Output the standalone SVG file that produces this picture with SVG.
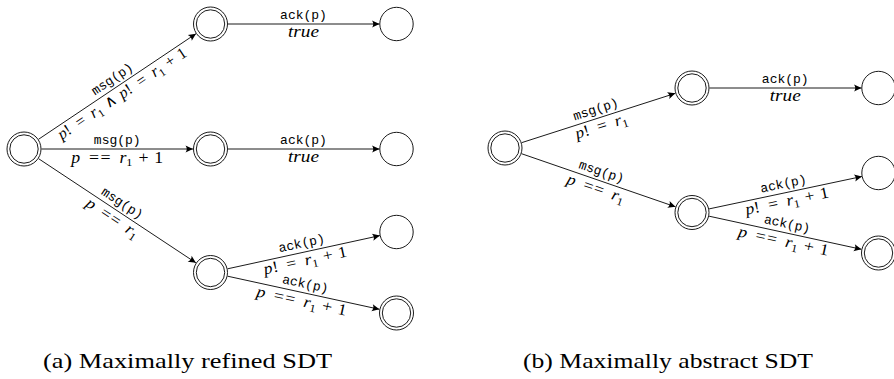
<svg xmlns="http://www.w3.org/2000/svg" width="894" height="379" viewBox="0 0 894 379">
  <style>
    .st { fill: #fff; stroke: #000; stroke-width: 0.9; }
    .ed { fill: none; stroke: #000; stroke-width: 0.9; marker-end: url(#arr); }
    .tt { font-family: "Liberation Mono", "DejaVu Sans Mono", monospace; font-size: 13px; text-anchor: middle; fill: #000; }
    .m { font-family: "Liberation Serif", "DejaVu Serif", serif; font-size: 16px; text-anchor: middle; fill: #000; }
    .tr { font-size: 17px; font-style: italic; }
    .i { font-style: italic; }
    .s { font-size: 11px; }
    .cap { font-family: "Liberation Serif", "DejaVu Serif", serif; font-size: 22px; text-anchor: middle; fill: #000; }
  </style>
  <defs>
    <marker id="arr" markerUnits="userSpaceOnUse" viewBox="-8 -5 10 10" refX="0" refY="0" markerWidth="10" markerHeight="10" orient="auto">
      <path d="M0,0 L-7.5,-3.6 Q-5,0 -7.5,3.6 Z" fill="#000"/>
    </marker>
  </defs>
  <rect width="894" height="379" fill="#fff"/>

  <!-- (a) refined tree: transitions -->
  <g id="connectors-a">
    <g id="a-e1">
      <line class="ed" x1="38.5" y1="139.3" x2="196" y2="33.7"/>
      <g transform="translate(117.25,86.5) rotate(-33.83)">
        <text class="tt" x="0" y="-5">msg(p)</text>
        <text class="m" x="0" y="13.5" textLength="152" lengthAdjust="spacingAndGlyphs"><tspan class="i">p</tspan>!&#x2002;=&#x2002;<tspan class="i">r</tspan><tspan class="s" dy="3.5">1</tspan><tspan dy="-3.5">&#x2004;∧&#x2004;</tspan><tspan class="i">p</tspan>!&#x2002;=&#x2002;<tspan class="i">r</tspan><tspan class="s" dy="3.5">1</tspan><tspan dy="-3.5">&#x2004;+&#x2004;1</tspan></text>
      </g>
    </g>
    <g id="a-e2">
      <line class="ed" x1="41.5" y1="149" x2="193" y2="149"/>
      <g transform="translate(117.25,149)">
        <text class="tt" x="0" y="-5">msg(p)</text>
        <text class="m" x="0" y="13.5" textLength="92" lengthAdjust="spacingAndGlyphs"><tspan class="i">p</tspan>&#x2002;=&#x200A;=&#x2002;<tspan class="i">r</tspan><tspan class="s" dy="3.5">1</tspan><tspan dy="-3.5">&#x2004;+&#x2004;1</tspan></text>
      </g>
    </g>
    <g id="a-e3">
      <line class="ed" x1="38.6" y1="158.7" x2="195.9" y2="262.8"/>
      <g transform="translate(117.25,210.75) rotate(33.51)">
        <text class="tt" x="0" y="-5">msg(p)</text>
        <text class="m" x="0" y="13.5" textLength="60" lengthAdjust="spacingAndGlyphs"><tspan class="i">p</tspan>&#x2002;=&#x200A;=&#x2002;<tspan class="i">r</tspan><tspan class="s" dy="3.5">1</tspan></text>
      </g>
    </g>
    <g id="a-e4">
      <line class="ed" x1="228" y1="24" x2="379.5" y2="24"/>
      <g transform="translate(303.5,24)">
        <text class="tt" x="0" y="-5">ack(p)</text>
        <text class="m tr" x="0" y="13" textLength="31" lengthAdjust="spacingAndGlyphs">true</text>
      </g>
    </g>
    <g id="a-e5">
      <line class="ed" x1="228" y1="149" x2="379.5" y2="149"/>
      <g transform="translate(303.5,149)">
        <text class="tt" x="0" y="-5">ack(p)</text>
        <text class="m tr" x="0" y="13" textLength="31" lengthAdjust="spacingAndGlyphs">true</text>
      </g>
    </g>
    <g id="a-e6">
      <line class="ed" x1="227.6" y1="268.8" x2="379.9" y2="235.6"/>
      <g transform="translate(303.5,252.25) rotate(-12.28)">
        <text class="tt" x="0" y="-5">ack(p)</text>
        <text class="m" x="0" y="13.5" textLength="85" lengthAdjust="spacingAndGlyphs"><tspan class="i">p</tspan>!&#x2002;=&#x2002;<tspan class="i">r</tspan><tspan class="s" dy="3.5">1</tspan><tspan dy="-3.5">&#x2004;+&#x2004;1</tspan></text>
      </g>
    </g>
    <g id="a-e7">
      <line class="ed" x1="227.6" y1="276.2" x2="379.4" y2="309.3"/>
      <g transform="translate(303.5,292.75) rotate(12.28)">
        <text class="tt" x="0" y="-5">ack(p)</text>
        <text class="m" x="0" y="13.5" textLength="92" lengthAdjust="spacingAndGlyphs"><tspan class="i">p</tspan>&#x2002;=&#x200A;=&#x2002;<tspan class="i">r</tspan><tspan class="s" dy="3.5">1</tspan><tspan dy="-3.5">&#x2004;+&#x2004;1</tspan></text>
      </g>
    </g>
  </g>

  <!-- (a) refined tree: states -->
  <g id="a-root"><circle class="st" cx="24" cy="149" r="17"/><circle class="st" cx="24" cy="149" r="14.2"/></g>
  <g id="a-n1"><circle class="st" cx="210.5" cy="24" r="17"/><circle class="st" cx="210.5" cy="24" r="14.2"/></g>
  <g id="a-n2"><circle class="st" cx="396.5" cy="24" r="16.7"/></g>
  <g id="a-n3"><circle class="st" cx="210.5" cy="149" r="17"/><circle class="st" cx="210.5" cy="149" r="14.2"/></g>
  <g id="a-n4"><circle class="st" cx="396.5" cy="149" r="16.7"/></g>
  <g id="a-n5"><circle class="st" cx="210.5" cy="272.5" r="17"/><circle class="st" cx="210.5" cy="272.5" r="14.2"/></g>
  <g id="a-n6"><circle class="st" cx="396.5" cy="232" r="16.7"/></g>
  <g id="a-n7"><circle class="st" cx="396.5" cy="313" r="17"/><circle class="st" cx="396.5" cy="313" r="14.2"/></g>

  <!-- (b) abstract tree: transitions -->
  <g id="connectors-b">
    <g id="b-e1">
      <line class="ed" x1="521.7" y1="142.65" x2="675.3" y2="93.35"/>
      <g transform="translate(598.5,118) rotate(-17.79)">
        <text class="tt" x="0" y="-5">msg(p)</text>
        <text class="m" x="0" y="13.5" textLength="54" lengthAdjust="spacingAndGlyphs"><tspan class="i">p</tspan>!&#x2002;=&#x2002;<tspan class="i">r</tspan><tspan class="s" dy="3.5">1</tspan></text>
      </g>
    </g>
    <g id="b-e2">
      <line class="ed" x1="521.5" y1="153.7" x2="675.5" y2="206.8"/>
      <g transform="translate(598.5,180.25) rotate(19.03)">
        <text class="tt" x="0" y="-5">msg(p)</text>
        <text class="m" x="0" y="13.5" textLength="60" lengthAdjust="spacingAndGlyphs"><tspan class="i">p</tspan>&#x2002;=&#x200A;=&#x2002;<tspan class="i">r</tspan><tspan class="s" dy="3.5">1</tspan></text>
      </g>
    </g>
    <g id="b-e3">
      <line class="ed" x1="709.5" y1="88" x2="861.5" y2="88"/>
      <g transform="translate(785.25,88)">
        <text class="tt" x="0" y="-5">ack(p)</text>
        <text class="m tr" x="0" y="13" textLength="31" lengthAdjust="spacingAndGlyphs">true</text>
      </g>
    </g>
    <g id="b-e4">
      <line class="ed" x1="709.1" y1="208.9" x2="861.9" y2="176.5"/>
      <g transform="translate(785.25,192.75) rotate(-11.96)">
        <text class="tt" x="0" y="-5">ack(p)</text>
        <text class="m" x="0" y="13.5" textLength="85" lengthAdjust="spacingAndGlyphs"><tspan class="i">p</tspan>!&#x2002;=&#x2002;<tspan class="i">r</tspan><tspan class="s" dy="3.5">1</tspan><tspan dy="-3.5">&#x2004;+&#x2004;1</tspan></text>
      </g>
    </g>
    <g id="b-e5">
      <line class="ed" x1="709.1" y1="216.2" x2="861.4" y2="249.3"/>
      <g transform="translate(785.25,232.75) rotate(12.25)">
        <text class="tt" x="0" y="-5">ack(p)</text>
        <text class="m" x="0" y="13.5" textLength="92" lengthAdjust="spacingAndGlyphs"><tspan class="i">p</tspan>&#x2002;=&#x200A;=&#x2002;<tspan class="i">r</tspan><tspan class="s" dy="3.5">1</tspan><tspan dy="-3.5">&#x2004;+&#x2004;1</tspan></text>
      </g>
    </g>
  </g>

  <!-- (b) abstract tree: states -->
  <g id="b-root"><circle class="st" cx="505" cy="148" r="17"/><circle class="st" cx="505" cy="148" r="14.2"/></g>
  <g id="b-n1"><circle class="st" cx="692" cy="88" r="17"/><circle class="st" cx="692" cy="88" r="14.2"/></g>
  <g id="b-n2"><circle class="st" cx="878.5" cy="88" r="16.7"/></g>
  <g id="b-n3"><circle class="st" cx="692" cy="212.5" r="17"/><circle class="st" cx="692" cy="212.5" r="14.2"/></g>
  <g id="b-n4"><circle class="st" cx="878.5" cy="173" r="16.7"/></g>
  <g id="b-n5"><circle class="st" cx="878.5" cy="253" r="17"/><circle class="st" cx="878.5" cy="253" r="14.2"/></g>

  <!-- captions -->
  <text class="cap" x="187.5" y="368" textLength="289" lengthAdjust="spacingAndGlyphs">(a) Maximally refined SDT</text>
  <text class="cap" x="668" y="368" textLength="290" lengthAdjust="spacingAndGlyphs">(b) Maximally abstract SDT</text>
</svg>
